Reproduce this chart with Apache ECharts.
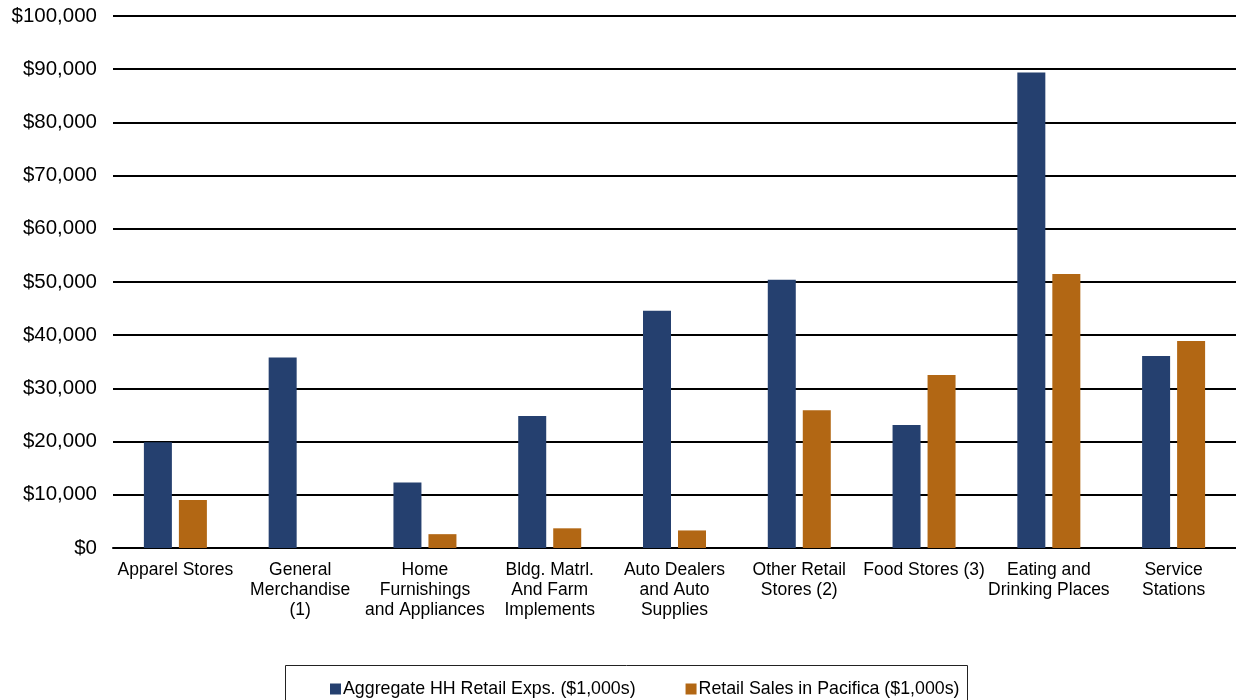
<!DOCTYPE html>
<html>
<head>
<meta charset="utf-8">
<script src="https://cdn.jsdelivr.net/npm/echarts@6/dist/echarts.min.js"></script>
<style>
  html, body { margin: 0; padding: 0; background: #fff; }
  #chart { width: 1236px; height: 700px; }
</style>
</head>
<body>
<div id="chart"></div>
<script>
// Retail categories and spending / sales figures, in $1,000s
const categories = [
  'Apparel Stores',
  'General\nMerchandise\n(1)',
  'Home\nFurnishings\nand Appliances',
  'Bldg. Matrl.\nAnd Farm\nImplements',
  'Auto Dealers\nand Auto\nSupplies',
  'Other Retail\nStores (2)',
  'Food Stores (3)',
  'Eating and\nDrinking Places',
  'Service\nStations'
];
const seriesNames = ['Aggregate HH Retail Exps. ($1,000s)', 'Retail Sales in Pacifica ($1,000s)'];
const householdExpenditures = [19900, 35800, 12300, 24800, 44600, 50400, 23100, 89400, 36100];
const pacificaSales = [9000, 0, 2600, 3700, 3300, 25900, 32500, 51500, 38900];
const yTicks = { min: 0, max: 100000, interval: 10000 };

const font = 'Liberation Sans, Arial, sans-serif';
const chart = echarts.init(document.getElementById('chart'));

chart.setOption({
  animation: false,
  textStyle: { fontFamily: font, color: '#000' },
  grid: { left: 113, right: 0, top: 16, bottom: 152 },
  legend: {
    left: 325,
    top: 675,
    itemWidth: 11,
    itemHeight: 11,
    itemGap: 50,
    icon: 'rect',
    textStyle: { fontSize: 17.8, color: '#000', fontFamily: font, padding: [0, 0, 0, -3] },
    data: seriesNames
  },
  graphic: [{
    type: 'rect',
    shape: { x: 285.5, y: 665.5, width: 682, height: 40 },
    style: { fill: 'none', stroke: '#222', lineWidth: 1 },
    z: -1
  }],
  xAxis: {
    type: 'category',
    data: categories,
    axisLine: { show: true, lineStyle: { color: '#000', width: 2 } },
    axisTick: { show: false },
    axisLabel: { interval: 0, fontSize: 17.5, lineHeight: 20, margin: 12, color: '#000', fontFamily: font }
  },
  yAxis: {
    type: 'value',
    min: yTicks.min,
    max: yTicks.max,
    interval: yTicks.interval,
    axisLine: { show: false },
    axisTick: { show: false },
    splitLine: { lineStyle: { color: '#000', width: 2 } },
    axisLabel: {
      fontSize: 20.5,
      margin: 16,
      color: '#000',
      fontFamily: font,
      formatter: v => '$' + v.toLocaleString('en-US')
    }
  },
  series: [
    {
      name: seriesNames[0],
      type: 'bar',
      data: householdExpenditures,
      barWidth: 28,
      barGap: '25%',
      itemStyle: { color: '#25406f' }
    },
    {
      name: seriesNames[1],
      type: 'bar',
      data: pacificaSales,
      barWidth: 28,
      barGap: '25%',
      itemStyle: { color: '#b26714' }
    }
  ]
});
</script>
</body>
</html>
